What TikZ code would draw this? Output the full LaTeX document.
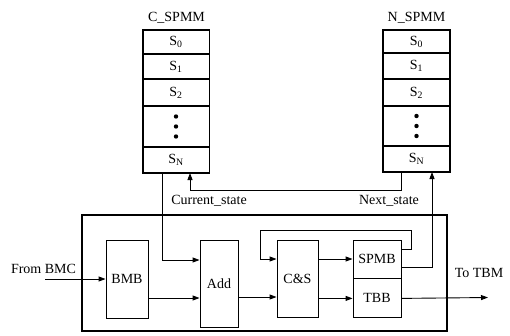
\documentclass[tikz,border=0pt]{standalone}
\usepackage{fontspec}
\setmainfont{Liberation Serif}
\usetikzlibrary{arrows.meta}
\begin{document}
\begin{tikzpicture}[x=1pt,y=-1pt,
  every node/.style={font=\fontsize{14}{16}\selectfont, inner sep=0pt},
  cell/.style={draw, line width=1pt, minimum width=66pt, anchor=north},
  blk/.style={draw, line width=0.9pt},
  thin/.style={line width=0.9pt},
  arr/.style={line width=0.9pt, -{Triangle[length=7pt,width=5pt]}},
  lbl/.style={}]
\useasboundingbox (0,0) rectangle (510,335);

% C_SPMM
\node[lbl] (ct) at (176.5,18) {C\_SPMM};
\node[cell, minimum height=23pt] (c0) at (176,30) {S\textsubscript{0}};
\node[cell, minimum height=24pt] (c1) at (c0.south) {S\textsubscript{1}};
\node[cell, minimum height=26pt] (c2) at (c1.south) {S\textsubscript{2}};
\node[cell, minimum height=40pt] (cd) at (c2.south) {};
\node[cell, minimum height=25pt] (cN) at (cd.south) {S\textsubscript{N}};
\draw[line width=1.5pt] (c0.north west) rectangle (cN.south east);
\foreach \dy in {-10,0,10} \fill ([yshift=\dy pt]cd.center) circle (2.2pt);

% N_SPMM
\node[lbl] (nt) at (416.5,18) {N\_SPMM};
\node[cell, minimum height=22pt] (n0) at (416.5,30) {S\textsubscript{0}};
\node[cell, minimum height=25pt] (n1) at (n0.south) {S\textsubscript{1}};
\node[cell, minimum height=26pt] (n2) at (n1.south) {S\textsubscript{2}};
\node[cell, minimum height=39pt] (nd) at (n2.south) {};
\node[cell, minimum height=25pt] (nN) at (nd.south) {S\textsubscript{N}};
\draw[line width=1.5pt] (n0.north west) rectangle (nN.south east);
\foreach \dy in {-10,0,10} \fill ([yshift=\dy pt]nd.center) circle (2.2pt);

% outer box
\draw[line width=2.5pt] (82,215) rectangle (447,331);

% blocks
\node[blk, minimum width=42pt, minimum height=78pt] (bmb) at (127,279) {BMB};
\node[blk, minimum width=38pt, minimum height=87pt] (add) at (219,283.5) {Add};
\node[blk, minimum width=41pt, minimum height=77pt] (cs) at (297.5,278.5) {C\&S};
\node[blk, minimum width=48pt, minimum height=38pt] (spmb) at (377,259) {SPMB};
\node[blk, minimum width=48pt, minimum height=39pt, anchor=north] (tbb) at (spmb.south) {TBB};

% labels
\node[lbl] (cst) at (209,201) {Current\_state};
\node[lbl] (nst) at (389,201) {Next\_state};
\node[lbl] (fbmc) at (43.5,269) {From BMC};
\node[lbl] (ttbm) at (479,273) {To TBM};

% coordinates
\coordinate (cin) at ([xshift=14pt]cN.south);
\coordinate (cout) at ([xshift=-14pt]cN.south);
\coordinate (nin) at ([xshift=15.5pt]nN.south);
\coordinate (nout) at ([xshift=-15.5pt]nN.south);
\coordinate (src) at (45,279);
\coordinate (dst) at (488,297.5);
\coordinate (b1) at ([yshift=-19pt]bmb.east);
\coordinate (a1) at ([yshift=-13.5pt]add.east);
\coordinate (fb1) at (411.7,230);
\coordinate (fb2) at (260,230);

% connectors
\draw[arr] (src) -- (bmb.west);
\draw[arr] (b1) -- (add.west |- b1);
\draw[arr] (a1) -- (cs.west |- a1);
\draw[arr] (cs.east |- spmb.west) -- (spmb.west);
\draw[arr] (cs.east |- tbb.west) -- (tbb.west);
\draw[arr] (tbb.east) -- (dst);
\draw[arr] ([yshift=10pt]spmb.east) -| (fb1) -- (fb2) |- (cs.west |- spmb.west);
\draw[arr] ([yshift=-8pt]spmb.east) -| (nin);
\draw[arr] (nout) -- ++(0,18) -| (cin);
\draw[arr] (cout) |- ([yshift=23.5pt]add.west);
\end{tikzpicture}
\end{document}
